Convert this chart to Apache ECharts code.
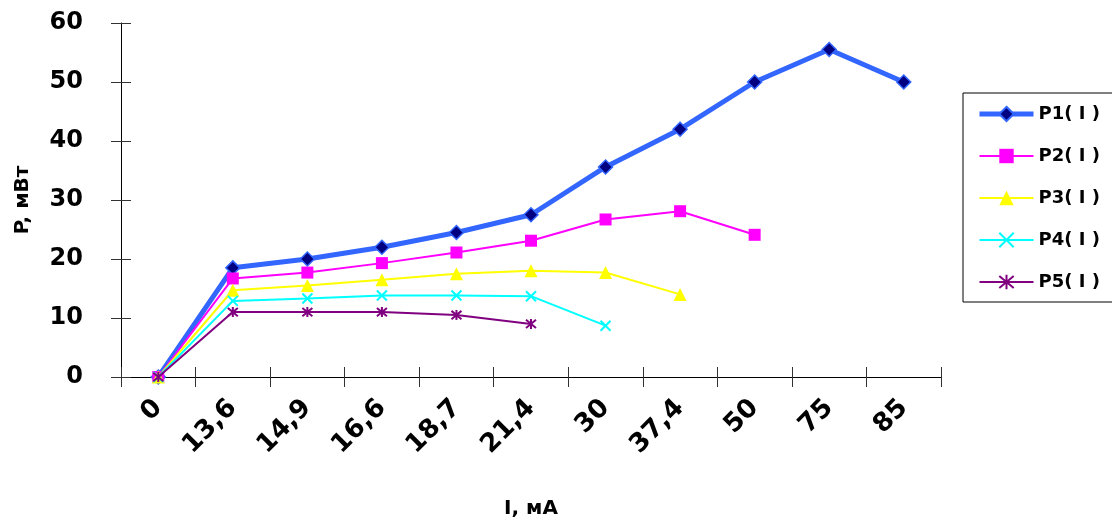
<!DOCTYPE html>
<html>
<head>
<meta charset="utf-8">
<script src="https://cdn.jsdelivr.net/npm/echarts@6/dist/echarts.min.js"></script>
<style>
  html, body { margin: 0; padding: 0; background: #fff; }
  #chart { width: 1112px; height: 529px; }
</style>
</head>
<body>
<div id="chart"></div>
<script>
// Current I, mA (category labels)
const currents = ['0', '13,6', '14,9', '16,6', '18,7', '21,4', '30', '37,4', '50', '75', '85'];

// Power P, mW for each curve
const p1 = [0, 18.5, 20.0, 22.0, 24.5, 27.5, 35.6, 42.0, 50.0, 55.5, 50.0];
const p2 = [0, 16.7, 17.7, 19.3, 21.1, 23.1, 26.7, 28.1, 24.1];
const p3 = [0, 14.7, 15.5, 16.5, 17.5, 18.0, 17.7, 14.0];
const p4 = [0, 12.9, 13.3, 13.8, 13.8, 13.7, 8.7];
const p5 = [0, 11.0, 11.0, 11.0, 10.5, 9.0];

const seriesNames = ['P1( I )', 'P2( I )', 'P3( I )', 'P4( I )', 'P5( I )'];

// Y axis range
const yMin = 0, yMax = 60, yStep = 10;

const FONT = 'DejaVu Sans';
const crossSymbol = 'path://M0,0L10,10M10,0L0,10';
const starSymbol = 'path://M0,0L10,10M10,0L0,10M5,-1L5,11';

const chart = echarts.init(document.getElementById('chart'), null, { renderer: 'canvas' });

const tickStyle = { color: '#333', width: 1 };

// Legend entries; the first curve keeps its thick line in the key
const legendData = seriesNames.map((name, i) =>
  i === 0 ? { name, lineStyle: { width: 5 } } : { name, lineStyle: { width: 2 } }
);

chart.setOption({
  animation: false,
  backgroundColor: '#fff',
  grid: { left: 121, right: 171, top: 23, bottom: 152, containLabel: false },
  legend: {
    orient: 'vertical',
    left: 963,
    top: 93,
    padding: [12, 20, 11, 14],
    itemWidth: 54,
    itemHeight: 18,
    itemGap: 24,
    borderColor: '#000',
    borderWidth: 1,
    textStyle: { fontFamily: FONT, fontWeight: 'bold', fontSize: 18, color: '#000', lineHeight: 18 },
    data: legendData
  },
  xAxis: [
    {
      type: 'category',
      data: currents,
      boundaryGap: true,
      name: 'I, мА',
      nameLocation: 'middle',
      nameGap: 122,
      nameTextStyle: { fontFamily: FONT, fontWeight: 'bold', fontSize: 20, color: '#000' },
      axisLine: { show: true, lineStyle: { color: '#000', width: 1 } },
      axisTick: { show: true, length: 10, alignWithLabel: false, lineStyle: tickStyle },
      axisLabel: {
        rotate: 45,
        margin: 27,
        interval: 0,
        fontFamily: FONT,
        fontWeight: 'bold',
        fontSize: 26,
        color: '#000'
      },
      splitLine: { show: false }
    },
    {
      type: 'category',
      data: currents,
      boundaryGap: true,
      position: 'bottom',
      axisLine: { show: false },
      axisTick: { show: true, inside: true, length: 10, lineStyle: tickStyle },
      axisLabel: { show: false },
      splitLine: { show: false }
    }
  ],
  yAxis: [
    {
      type: 'value',
      min: yMin,
      max: yMax,
      interval: yStep,
      name: 'P, мВт',
      nameLocation: 'middle',
      nameRotate: 90,
      nameGap: 88,
      nameTextStyle: { fontFamily: FONT, fontWeight: 'bold', fontSize: 20, color: '#000' },
      axisLine: { show: true, lineStyle: { color: '#000', width: 1 } },
      axisTick: { show: true, length: 10, lineStyle: tickStyle },
      axisLabel: { margin: 38, fontFamily: FONT, fontWeight: 'bold', fontSize: 24, color: '#000' },
      splitLine: { show: false }
    },
    {
      type: 'value',
      min: yMin,
      max: yMax,
      interval: yStep,
      position: 'left',
      axisLine: { show: false },
      axisTick: { show: true, inside: true, length: 10, lineStyle: tickStyle },
      axisLabel: { show: false },
      splitLine: { show: false }
    }
  ],
  series: [
    {
      name: seriesNames[0],
      type: 'line',
      data: p1,
      symbol: 'diamond',
      symbolSize: 14,
      lineStyle: { color: '#3366FF', width: 5 },
      itemStyle: { color: '#000080', borderColor: '#3366FF', borderWidth: 1.5 },
      z: 2
    },
    {
      name: seriesNames[1],
      type: 'line',
      data: p2,
      symbol: 'rect',
      symbolSize: 12,
      lineStyle: { color: '#FF00FF', width: 2 },
      itemStyle: { color: '#FF00FF', borderWidth: 0 },
      z: 3
    },
    {
      name: seriesNames[2],
      type: 'line',
      data: p3,
      symbol: 'triangle',
      symbolSize: 13,
      lineStyle: { color: '#FFFF00', width: 2 },
      itemStyle: { color: '#FFFF00', borderWidth: 0 },
      z: 4
    },
    {
      name: seriesNames[3],
      type: 'line',
      data: p4,
      symbol: crossSymbol,
      symbolSize: 10,
      lineStyle: { color: '#00FFFF', width: 2 },
      itemStyle: { color: 'transparent', borderColor: '#00FFFF', borderWidth: 2 },
      z: 5
    },
    {
      name: seriesNames[4],
      type: 'line',
      data: p5,
      symbol: starSymbol,
      symbolSize: 10,
      lineStyle: { color: '#800080', width: 2 },
      itemStyle: { color: 'transparent', borderColor: '#800080', borderWidth: 2 },
      z: 6
    }
  ]
});
</script>
</body>
</html>
